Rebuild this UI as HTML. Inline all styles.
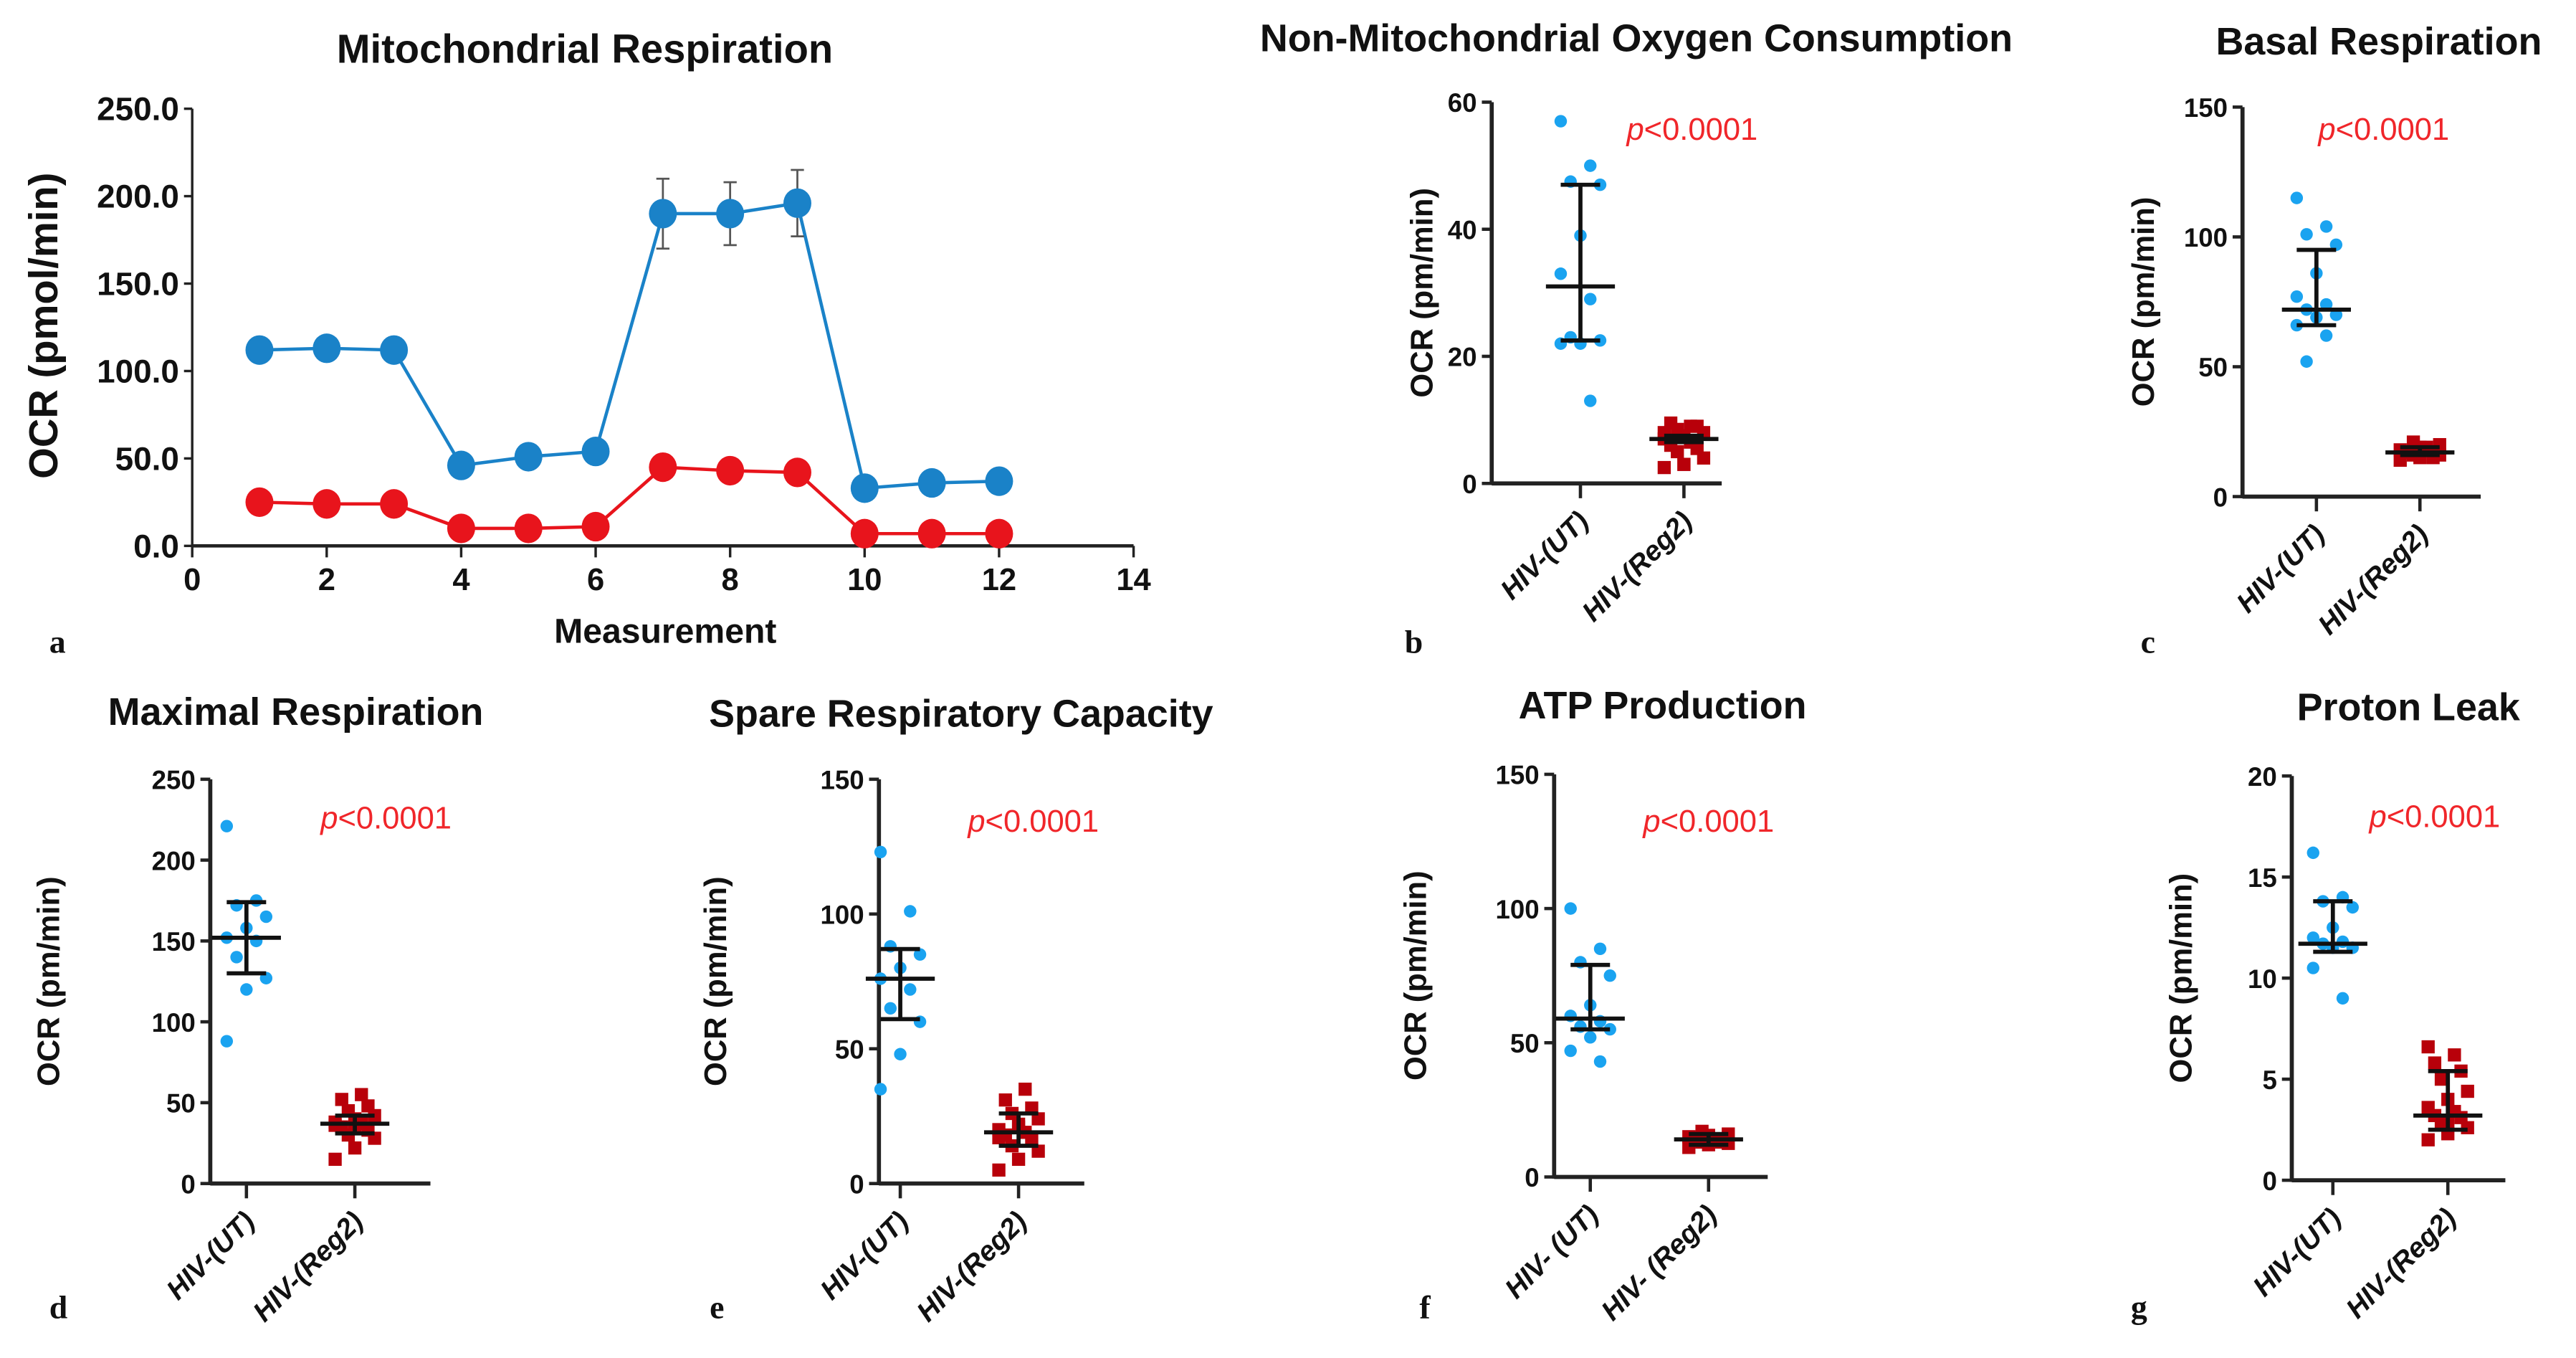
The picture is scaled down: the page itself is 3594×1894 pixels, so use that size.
<!DOCTYPE html>
<html><head><meta charset="utf-8"><style>
html,body{margin:0;padding:0;background:#fff;}
svg{display:block;font-family:"Liberation Sans",Arial,sans-serif;}
</style></head><body>
<svg id="fig" width="3594" height="1894" viewBox="0 0 1568 826" xmlns="http://www.w3.org/2000/svg"></svg>
<script>
// Panel a data
const measurements=[1,2,3,4,5,6,7,8,9,10,11,12];
const blueSeries=[112,113,112,46,51,54,190,190,196,33,36,37];
const blueErr=[0,0,0,0,0,0,20,18,19,0,0,0];
const redSeries=[25,24,24,10,10,11,45,43,42,7,7,7];
const redErr=[0,0,0,0,0,0,7,0,0,0,0,0];
const xTicksA=[0,2,4,6,8,10,12,14];
const yTicksA=[0,50,100,150,200,250];
// Scatter panels data
const catLabels=["HIV-(UT)","HIV-(Reg2)"];
const catLabelsF=["HIV- (UT)","HIV- (Reg2)"];
const bBlue=[57,50,47.5,47,39,33,29,23,22.5,22,22,13];
const bRed=[2.5,3,4,5,5.5,6,6.5,7,7.5,8,8.5,9,9.5,9,8,3];
const bStats=[[22.5,31,47],[6.5,7,7.5]];
const cBlue=[115,104,101,97,86,77,74,72,70,69,66,62,52];
const cRed=[14,15,16,16,17,17,18,18,19,20,21,15,17,19];
const cStats=[[66,72,95],[16,17,19]];
const dBlue=[221,175,172,165,158,152,150,140,127,120,88];
const dRed=[15,22,28,30,33,35,37,38,40,42,45,48,52,55,36,34];
const dStats=[[130,152,174],[31,37,42]];
const eBlue=[123,101,88,85,80,76,72,65,60,48,35];
const eRed=[5,9,12,14,16,18,19,20,22,24,26,28,31,35,17,21];
const eStats=[[61,76,87],[14,19,26]];
const fBlue=[100,85,80,75,64,60,58,56,55,52,47,43];
const fRed=[11,12,12.5,13,13.5,14,14,15,15.5,16,17,13,14.5];
const fStats=[[55,59,79],[12,14,16]];
const gBlue=[16.2,14,13.8,13.5,12.5,12,11.8,11.7,11.5,11.5,10.5,9];
const gRed=[2,2.3,2.6,2.9,3.1,3.2,3.4,3.6,4,4.4,5,5.4,5.8,6.2,6.6,2.8];
const gStats=[[11.3,11.7,13.8],[2.5,3.2,5.4]];

const NS="http://www.w3.org/2000/svg";
const svg=document.getElementById('fig');
function mk(tag,attrs,parent){const e=document.createElementNS(NS,tag);for(const k in attrs)e.setAttribute(k,attrs[k]);(parent||svg).appendChild(e);return e;}
function txt(s,attrs,parent){const e=mk('text',attrs,parent);e.textContent=s;return e;}

// ---------- Panel a ----------
(function(){
  const g=mk('g',{});
  
  
  const x0=117,x1=690,y0=332,y1=66;
  const sx=v=>x0+(v-0)/14*(x1-x0), sy=v=>y0-(v/250)*(y0-y1);
  const t=txt('Mitochondrial Respiration',{x:356,y:38,'text-anchor':'middle','font-size':24.5,'font-weight':'bold',fill:'#111'},g);
  
  const ax=mk('line',{x1:x0,y1:y0,x2:x1,y2:y0,stroke:'#222','stroke-width':2},g);
  
  const ay=mk('line',{x1:x0,y1:y0,x2:x0,y2:y1,stroke:'#222','stroke-width':1.5},g);
  
  yTicksA.forEach(v=>{mk('line',{x1:x0-5,y1:sy(v),x2:x0,y2:sy(v),stroke:'#222','stroke-width':1.5},g);
    const l=txt(v.toFixed(1),{x:x0-8,y:sy(v)+7,'text-anchor':'end','font-size':20,'font-weight':'bold',fill:'#111'},g);
    });
  xTicksA.forEach(v=>{mk('line',{x1:sx(v),y1:y0,x2:sx(v),y2:y0+7,stroke:'#222','stroke-width':1.5},g);
    const l=txt(String(v),{x:sx(v),y:y0+27,'text-anchor':'middle','font-size':19,'font-weight':'bold',fill:'#111'},g);
    });
  const xt=txt('Measurement',{x:405,y:391,'text-anchor':'middle','font-size':21,'font-weight':'bold',fill:'#111'},g);
  
  const yt=txt('OCR (pmol/min)',{x:0,y:0,transform:'translate(35,198) rotate(-90)','text-anchor':'middle','font-size':24.5,'font-weight':'bold',fill:'#111'},g);
  
  const la=txt('a',{x:30,y:397,'font-size':20,'font-family':'Liberation Serif, serif','font-weight':'bold',fill:'#111'},g);
  
  function series(vals,err,color,name){
    const p=mk('polyline',{points:vals.map((v,i)=>sx(measurements[i])+','+sy(v)).join(' '),fill:'none',stroke:color,'stroke-width':2},g);
    
    vals.forEach((v,i)=>{
      if(err[i]){const x=sx(measurements[i]);
        const eb=mk('path',{d:`M${x},${sy(v+err[i])}V${sy(v-err[i])}M${x-4},${sy(v+err[i])}H${x+4}M${x-4},${sy(v-err[i])}H${x+4}`,stroke:'#555','stroke-width':1.2,fill:'none'},g);
        }
      const c=mk('ellipse',{cx:sx(measurements[i]),cy:sy(v),rx:8.5,ry:9,fill:color},g);
      
    });
  }
  series(blueSeries,blueErr,'#1a82c8','hiv-ut');
  series(redSeries,redErr,'#e8141c','hiv-reg2');
})();

// ---------- Scatter panels ----------
function scatter(cfg){
  const g=mk('g',{});
  
  
  const {ax,yTop,yBot,xr,ymax,ticks,c1,c2,blue,red,stats,labels}=cfg;
  const sy=v=>yBot-(v/ymax)*(yBot-yTop);
  const t=txt(cfg.title,{x:cfg.tx,y:cfg.ty,'text-anchor':'middle','font-size':23.5,'font-weight':'bold',fill:'#111'},g);
  
  const xa=mk('line',{x1:ax,y1:yBot,x2:xr,y2:yBot,stroke:'#222','stroke-width':2.5},g);
  
  const ya=mk('line',{x1:ax,y1:yBot+1,x2:ax,y2:yTop,stroke:'#222','stroke-width':2.5},g);
  
  ticks.forEach(v=>{mk('line',{x1:ax-6,y1:sy(v),x2:ax,y2:sy(v),stroke:'#222','stroke-width':2},g);
    const l=txt(String(v),{x:ax-9,y:sy(v)+6,'text-anchor':'end','font-size':16,'font-weight':'bold',fill:'#111'},g);
    });
  [c1,c2].forEach((cx,i)=>{mk('line',{x1:cx,y1:yBot,x2:cx,y2:yBot+9,stroke:'#222','stroke-width':2},g);
    const l=txt(labels[i],{x:0,y:0,transform:`translate(${cx+6},${yBot+24}) rotate(-45)`,'text-anchor':'end','font-size':17,'font-weight':'bold','font-style':'italic',fill:'#111'},g);
    });
  const yt=txt('OCR (pm/min)',{x:0,y:0,transform:`translate(${cfg.ytx},${(yTop+yBot)/2}) rotate(-90)`,'text-anchor':'middle','font-size':19,'font-weight':'bold',fill:'#111'},g);
  
  const p=txt('',{x:cfg.px,y:cfg.py,'text-anchor':'middle','font-size':19,fill:'#f0262a'},g);
  
  const ps=mk('tspan',{'font-style':'italic'},p);ps.textContent='p';
  const ps2=mk('tspan',{},p);ps2.textContent='<0.0001';
  const pl=txt(cfg.id,{x:cfg.lx,y:cfg.ly,'font-size':20,'font-family':'Liberation Serif, serif','font-weight':'bold',fill:'#111'},g);
  
  blue.forEach((v,i)=>{const off=((i*3)%5-2)*6;
    const d=mk('circle',{cx:c1+off,cy:sy(v),r:3.8,fill:'#1aa3f0'},g);
    });
  red.forEach((v,i)=>{const off=((i*3)%7-3)*4;
    const s=mk('rect',{x:c2+off-4,y:sy(v)-4,width:8,height:8,fill:'#b8000a'},g);
    });
  [c1,c2].forEach((cx,i)=>{const [lo,md,hi]=stats[i];
    const e=mk('path',{d:`M${cx},${sy(lo)}V${sy(hi)}M${cx-12},${sy(lo)}H${cx+12}M${cx-12},${sy(hi)}H${cx+12}M${cx-21},${sy(md)}H${cx+21}`,stroke:'#111','stroke-width':2.5,fill:'none'},g);
    });
}
scatter({id:'b',title:'Non-Mitochondrial Oxygen Consumption',tx:996,ty:31,ax:908,yTop:62,yBot:294,xr:1048,ymax:60,ticks:[0,20,40,60],c1:962,c2:1025,blue:bBlue,red:bRed,stats:bStats,labels:catLabels,ytx:872,px:1030,py:85,lx:855,ly:397});
scatter({id:'c',title:'Basal Respiration',tx:1448,ty:33,ax:1365,yTop:65,yBot:302,xr:1510,ymax:150,ticks:[0,50,100,150],c1:1410,c2:1473,blue:cBlue,red:cRed,stats:cStats,labels:catLabels,ytx:1311,px:1451,py:85,lx:1303,ly:397});
scatter({id:'d',title:'Maximal Respiration',tx:180,ty:441,ax:128,yTop:474,yBot:720,xr:262,ymax:250,ticks:[0,50,100,150,200,250],c1:150,c2:216,blue:dBlue,red:dRed,stats:dStats,labels:catLabels,ytx:36,px:235,py:504,lx:30,ly:802});
scatter({id:'e',title:'Spare Respiratory Capacity',tx:585,ty:442,ax:535,yTop:474,yBot:720,xr:660,ymax:150,ticks:[0,50,100,150],c1:548,c2:620,blue:eBlue,red:eRed,stats:eStats,labels:catLabels,ytx:442,px:629,py:506,lx:432,ly:802});
scatter({id:'f',title:'ATP Production',tx:1012,ty:437,ax:946,yTop:471,yBot:716,xr:1076,ymax:150,ticks:[0,50,100,150],c1:968,c2:1040,blue:fBlue,red:fRed,stats:fStats,labels:catLabelsF,ytx:868,px:1040,py:506,lx:864,ly:802});
scatter({id:'g',title:'Proton Leak',tx:1466,ty:438,ax:1395,yTop:472,yBot:718,xr:1525,ymax:20,ticks:[0,5,10,15,20],c1:1420,c2:1490,blue:gBlue,red:gRed,stats:gStats,labels:catLabels,ytx:1334,px:1482,py:503,lx:1297,ly:802});
</script>
</body></html>
